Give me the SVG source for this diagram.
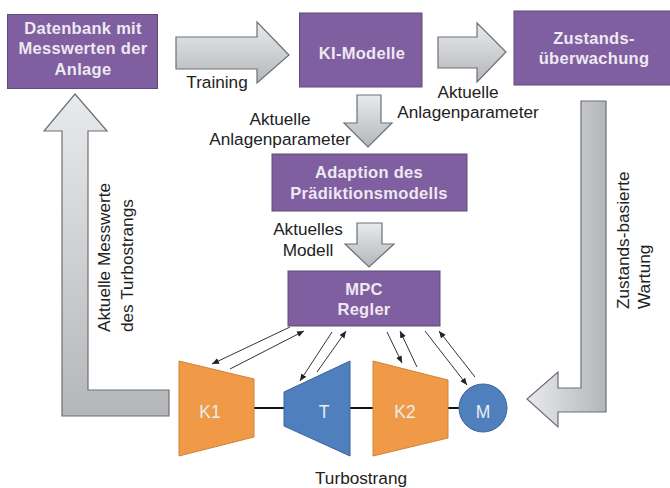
<svg xmlns="http://www.w3.org/2000/svg" width="670" height="488" viewBox="0 0 670 488">
<style>
text{font-family:"Liberation Sans",Arial,sans-serif;}
.box{fill:#7f5f9f;stroke:#5f4a7a;stroke-width:1;}
.bt{fill:#eee8f2;font-size:16.5px;font-weight:bold;text-anchor:middle;letter-spacing:.3px;}
.lb{fill:#222;font-size:17.2px;text-anchor:middle;}
.ls{fill:#222;font-size:17.2px;text-anchor:start;}
.ar{stroke:#6b7078;stroke-width:1.2;stroke-linejoin:miter;}
.or{fill:#f09a48;stroke:#d08338;stroke-width:1;}
.bl{fill:#4f7fbd;stroke:#3a659c;stroke-width:1;}
.nt{fill:#e8edf2;font-size:17.5px;text-anchor:middle;}
.sh{stroke:#111;stroke-width:2;fill:none;}
.sig{stroke:#333;stroke-width:1;fill:none;marker-end:url(#h);}
</style>
<defs>
<linearGradient id="gv" x1="0" y1="0" x2="0" y2="1"><stop offset="0" stop-color="#e9eaeb"/><stop offset="1" stop-color="#b4b6b8"/></linearGradient>
<linearGradient id="gh" x1="0" y1="0" x2="1" y2="0"><stop offset="0" stop-color="#e9eaeb"/><stop offset="1" stop-color="#b4b6b8"/></linearGradient>
<marker id="h" markerWidth="8" markerHeight="7" refX="7" refY="3" orient="auto" markerUnits="userSpaceOnUse"><path d="M0,0L7,3L0,6Z" fill="#222"/></marker>
</defs>
<g id="connectors">
<path class="ar" fill="url(#gv)" d="M176,37H257V22L289,55L257,83V69H176Z"/>
<path class="ar" fill="url(#gv)" d="M438,37H477V23L506,52L477,82V68H438Z"/>
<path class="ar" fill="url(#gv)" d="M357,95H381V123H392L368,147L344,123H357Z"/>
<path class="ar" fill="url(#gv)" d="M357,223H382V244H394L369,267L345,244H357Z"/>
<path class="ar" fill="url(#gh)" d="M581,101H606V412H558V427L527,399L558,372V388H581Z"/>
<path class="ar" fill="url(#gv)" d="M62,416V131H44L75,94L107,131H88V390H169V416Z"/>
<path class="sh" d="M254,408H284M350,408H373M448,408H459"/>
<path class="sig" d="M290,327L212,364"/>
<path class="sig" d="M230,369L304,331"/>
<path class="sig" d="M332,332L300,381"/>
<path class="sig" d="M317,372L346,331"/>
<path class="sig" d="M387,332L402,363"/>
<path class="sig" d="M417,367L400,331"/>
<path class="sig" d="M425,331L467,385"/>
<path class="sig" d="M475,377L439,331"/>
</g>
<g id="n1"><rect class="box" x="7.500" y="14.500" width="150" height="74"/><text class="bt" x="83" y="34">Datenbank mit</text><text class="bt" x="83" y="54">Messwerten der</text><text class="bt" x="83" y="75">Anlage</text></g>
<g id="n2"><rect class="box" x="299.500" y="13" width="122.500" height="74"/><text class="bt" x="362" y="59">KI-Modelle</text></g>
<g id="n3"><rect class="box" x="514" y="11" width="157" height="74"/><text class="bt" x="594" y="44">Zustands-</text><text class="bt" x="594" y="64">überwachung</text></g>
<g id="n4"><rect class="box" x="272" y="154" width="195" height="57"/><text class="bt" x="369" y="178">Adaption des</text><text class="bt" x="369" y="199">Prädiktionsmodells</text></g>
<g id="n5"><rect class="box" x="288" y="271" width="152" height="55"/><text class="bt" x="364" y="295">MPC</text><text class="bt" x="364" y="315">Regler</text></g>
<g id="k1"><path class="or" d="M179,361L254,379V437L179,456Z"/><text class="nt" x="210" y="418">K1</text></g>
<g id="t"><path class="bl" d="M350,361V456L284,426V392Z"/><text class="nt" x="324" y="418">T</text></g>
<g id="k2"><path class="or" d="M373,361L448,380V438L373,456Z"/><text class="nt" x="405" y="418">K2</text></g>
<g id="m"><circle class="bl" cx="483" cy="408" r="24"/><text class="nt" x="483" y="418">M</text></g>
<g id="labels">
<text class="lb" x="217" y="88">Training</text>
<text class="lb" x="280" y="125">Aktuelle</text>
<text class="lb" x="280" y="145">Anlagenparameter</text>
<text class="lb" x="468" y="98">Aktuelle</text>
<text class="lb" x="468" y="118">Anlagenparameter</text>
<text class="lb" x="308" y="235">Aktuelles</text>
<text class="lb" x="308" y="256">Modell</text>
<text class="lb" x="361" y="484">Turbostrang</text>
<text class="ls" transform="translate(110,332) rotate(-90)">Aktuelle Messwerte</text>
<text class="ls" transform="translate(133,332) rotate(-90)">des Turbostrangs</text>
<text class="ls" transform="translate(629,309) rotate(-90)">Zustands-basierte</text>
<text class="ls" transform="translate(650,309) rotate(-90)">Wartung</text>
</g>
</svg>
